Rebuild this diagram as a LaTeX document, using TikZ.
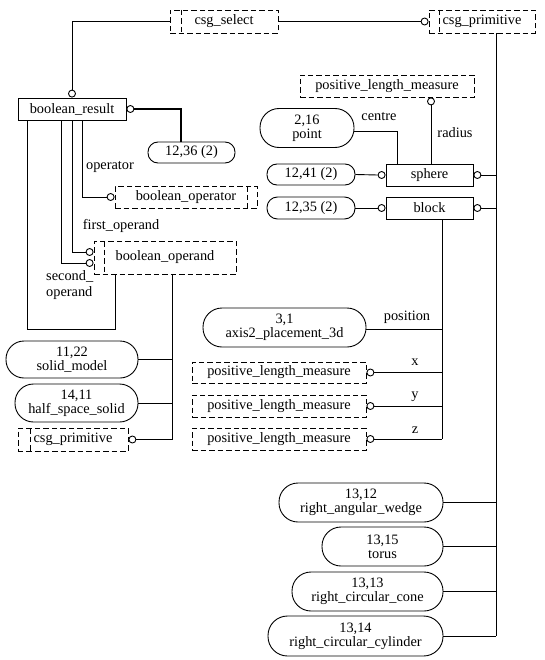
\documentclass[tikz,border=0pt]{standalone}
\usepackage{fontspec}
\setmainfont{Liberation Serif}
\begin{document}
\begin{tikzpicture}[x=1bp,y=-1bp,
  every node/.style={font=\fontsize{14.4}{13.8}\selectfont, inner sep=0pt, align=center},
  ln/.style={line width=0.9bp},
  bold/.style={line width=1.2bp},
  sz/.style 2 args={minimum width=#1bp, minimum height=#2bp},
  ent/.style={draw, line width=0.9bp, rectangle},
  dpat/.style={dash pattern=on 5.5bp off 3bp, line width=0.9bp},
  dbox/.style={draw, dpat},
  selbox/.style={dbox, path picture={\draw[dpat] ([xshift=#1]path picture bounding box.north west) -- ([xshift=#1]path picture bounding box.south west);}},
  defbox/.style={dbox, path picture={\draw[dpat] ([xshift=-#1]path picture bounding box.north east) -- ([xshift=-#1]path picture bounding box.south east);}},
  refbox/.style={draw, line width=0.9bp, rounded corners=#1},
  oc/.style={circle, draw, line width=0.9bp, fill=white, inner sep=0pt, minimum size=7bp}
]
\useasboundingbox (0,0) rectangle (545,660);

% nodes
\node[selbox=11bp, sz={108}{23}] (cs) at (224,21.5) {csg\_select};
\node[selbox=10bp, sz={106}{23}] (cpt) at (482,21.5) {csg\_primitive};
\node[ent, sz={108}{22}] (br) at (72,109) {boolean\_result};
\node[refbox=10bp, sz={87}{21}] (r1236) at (191.5,152.5) {12,36 (2)};
\node[defbox=10bp, sz={142}{22}] (bop) at (186,197) {boolean\_operator};
\node[selbox=10bp, sz={142}{33}] (bod) at (165,257.5) {boolean\_operand};
\node[refbox=18bp, sz={132}{37}] (sm) at (72,359.5) {11,22\\solid\_model};
\node[refbox=18.5bp, sz={123}{38}] (hs) at (76.5,403) {14,11\\half\_space\_solid};
\node[selbox=12bp, sz={110}{23}] (cpl) at (73,439.5) {csg\_primitive};
\node[dbox, sz={174}{22}] (plm) at (387,86) {positive\_length\_measure};
\node[refbox=19bp, sz={94}{39}] (pt) at (307,128) {2,16\\point};
\node[ent, sz={87}{22}] (sph) at (429.5,175) {sphere};
\node[refbox=10bp, sz={88}{21}] (r1241) at (311,174.5) {12,41 (2)};
\node[ent, sz={87}{22}] (blk) at (429.5,208) {block};
\node[refbox=10.5bp, sz={88}{22}] (r1235) at (311,208) {12,35 (2)};
\node[refbox=19bp, sz={163}{39}] (ax) at (284.5,327.5) {3,1\\axis2\_placement\_3d};
\node[dbox, sz={174}{21}] (px) at (279,372.5) {positive\_length\_measure};
\node[dbox, sz={174}{22}] (py) at (279,406) {positive\_length\_measure};
\node[dbox, sz={174}{22}] (pz) at (279,439) {positive\_length\_measure};
\node[refbox=19bp, sz={164}{39}] (wd) at (361,502.5) {13,12\\right\_angular\_wedge};
\node[refbox=19bp, sz={121}{39}] (tr) at (382.5,546.5) {13,15\\torus};
\node[refbox=19bp, sz={151}{39}] (cn) at (367.5,591.5) {13,13\\right\_circular\_cone};
\node[refbox=19.5bp, sz={175}{40}] (cy) at (355.5,636) {13,14\\right\_circular\_cylinder};

% circles
\node[oc, anchor=east] (o1) at (cpt.west) {};
\node[oc, anchor=south] (o2) at (br.north) {};
\node[oc, anchor=west] (o3) at (br.east) {};
\node[oc, anchor=east] (o4) at (bop.west) {};
\node[oc, anchor=east] (o5) at ([yshift=5.5bp]bod.west) {};
\node[oc, anchor=east] (o6) at ([yshift=-5.5bp]bod.west) {};
\node[oc, anchor=west] (o7) at (cpl.east) {};
\node[oc, anchor=north] (o8) at ([xshift=44bp]plm.south) {};
\node[oc, anchor=east] (o9) at (sph.west) {};
\node[oc, anchor=west] (o10) at (sph.east) {};
\node[oc, anchor=east] (o11) at (blk.west) {};
\node[oc, anchor=west] (o12) at (blk.east) {};
\node[oc, anchor=west] (o13) at (px.east) {};
\node[oc, anchor=west] (o14) at (py.east) {};
\node[oc, anchor=west] (o15) at (pz.east) {};

% helper coordinates
\coordinate (vb) at ([xshift=14bp]cpt.south);
\coordinate (v2) at ([xshift=7bp]bod.south);
\coordinate (v3) at ([xshift=12.5bp]blk.south);
\coordinate (b1) at ([xshift=10bp]br.south west);
\coordinate (b1e) at ([xshift=22bp]bod.south west);
\coordinate (yl) at (0,329);

% connectors
\draw[ln] (cs.east) -- (o1.west);
\draw[ln] (cs.west) -| (o2.north);
\draw[ln] (vb) -- (vb |- cy.east);
\draw[ln] (o10.east) -- (o10.east -| vb);
\draw[ln] (o12.east) -- (o12.east -| vb);
\draw[ln] (wd.east) -- (wd.east -| vb);
\draw[ln] (tr.east) -- (tr.east -| vb);
\draw[ln] (cn.east) -- (cn.east -| vb);
\draw[ln] (cy.east) -- (cy.east -| vb);

\draw[bold] (o3.east) -| ([xshift=-10.5bp]r1236.north);
\draw[ln] (b1) -- (b1 |- yl) -| (b1e);
\draw[ln] ([xshift=-11bp]br.south) |- (o6.west);
\draw[ln] (br.south) |- (o5.west);
\draw[ln] ([xshift=10bp]br.south) |- (o4.west);

\draw[ln] (v2) -- (v2 |- o7.east);
\draw[ln] (sm.east) -- (sm.east -| v2);
\draw[ln] (hs.east) -- (hs.east -| v2);
\draw[ln] (o7.east) -- (o7.east -| v2);

\draw[ln] (o8.south) -- (o8.south |- sph.north);
\draw[ln] ([yshift=-3bp]pt.east) -| ([xshift=-32.5bp]sph.north);
\draw[ln] (r1241.east) -- (o9.west);
\draw[ln] (r1235.east) -- (o11.west);

\draw[ln] (v3) -- (v3 |- o15.east);
\draw[ln] ([yshift=-1.5bp]ax.east) -- ([yshift=-1.5bp]ax.east -| v3);
\draw[ln] (o13.east) -- (o13.east -| v3);
\draw[ln] (o14.east) -- (o14.east -| v3);
\draw[ln] (o15.east) -- (o15.east -| v3);

% labels
\node (lop) at (110,167) {operator};
\node (lfo) at (121,226) {first\_operand};
\node[align=left, anchor=west] (lso) at (46,285) {second\_\\[2.5bp]operand};
\node (lce) at (379,117) {centre};
\node (lra) at (455,133) {radius};
\node (lpo) at (407,317) {position};
\node (lx) at (415,362) {x};
\node (ly) at (415,397) {y};
\node (lz) at (415,430) {z};
\end{tikzpicture}
\end{document}
